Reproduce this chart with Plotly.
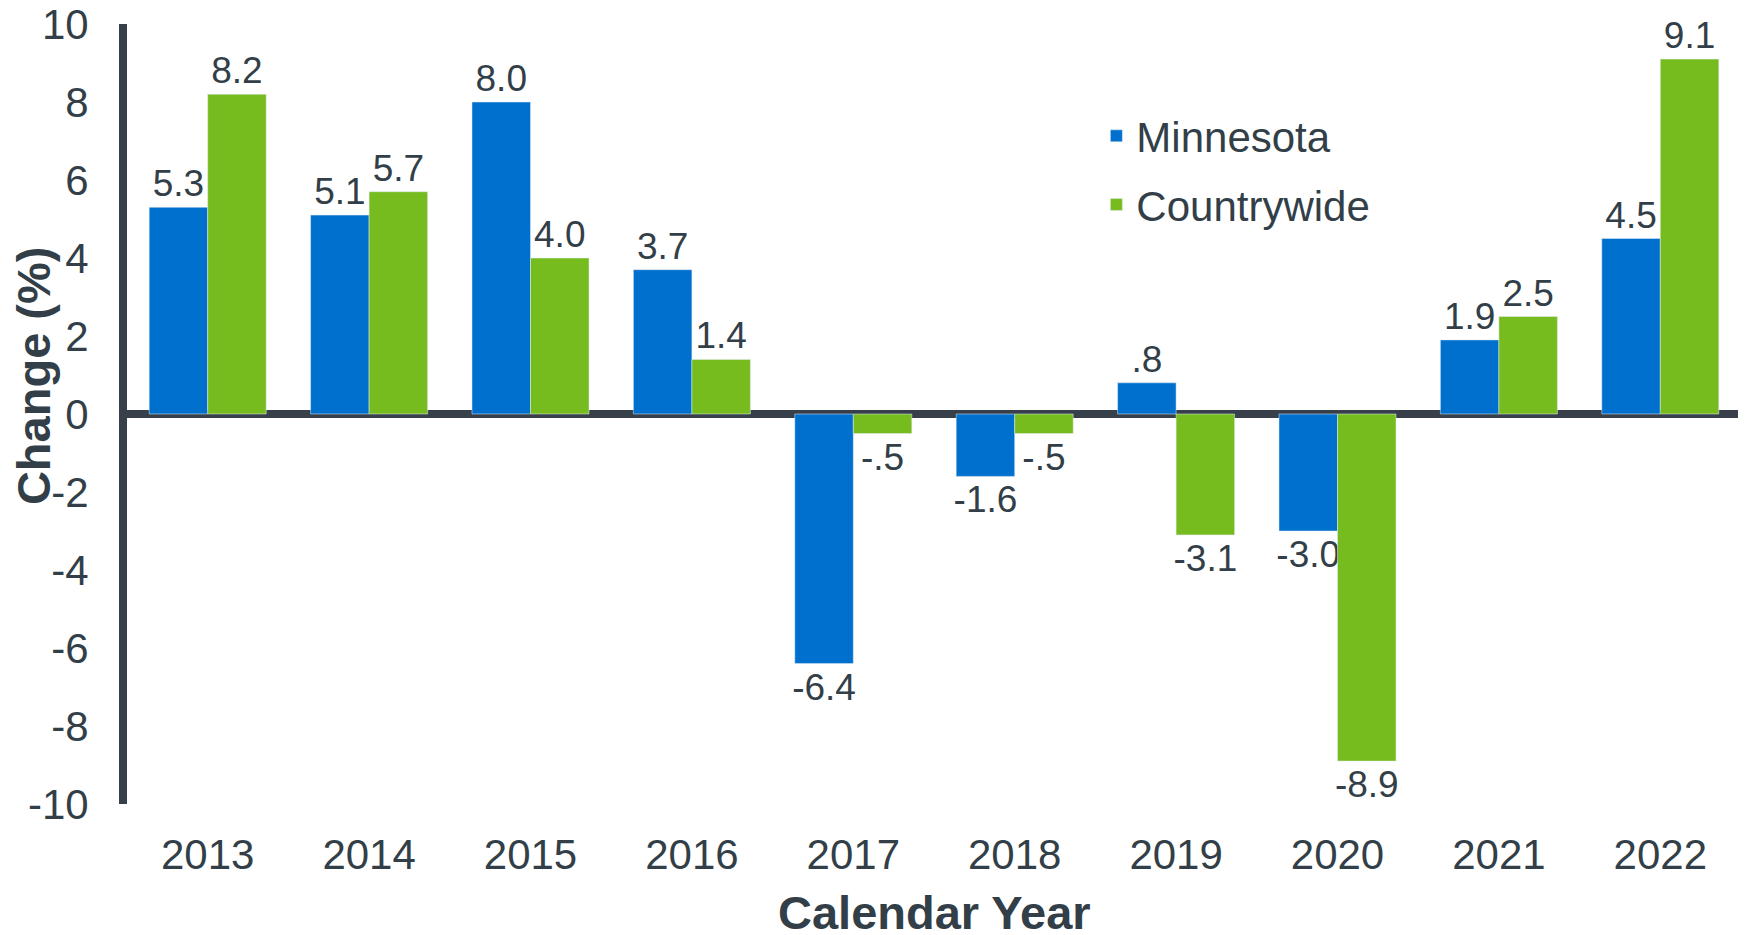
import plotly.graph_objects as go

# ---- data ----
years = ["2013", "2014", "2015", "2016", "2017", "2018", "2019", "2020", "2021", "2022"]
minnesota = [5.3, 5.1, 8.0, 3.7, -6.4, -1.6, 0.8, -3.0, 1.9, 4.5]
countrywide = [8.2, 5.7, 4.0, 1.4, -0.5, -0.5, -3.1, -8.9, 2.5, 9.1]
minnesota_labels = ["5.3", "5.1", "8.0", "3.7", "-6.4", "-1.6", ".8", "-3.0", "1.9", "4.5"]
countrywide_labels = ["8.2", "5.7", "4.0", "1.4", "-.5", "-.5", "-3.1", "-8.9", "2.5", "9.1"]
y_tick_values = [10, 8, 6, 4, 2, 0, -2, -4, -6, -8, -10]
y_tick_labels = ["10", "8", "6", "4", "2", "0", "-2", "-4", "-6", "-8", "-10"]

# ---- style ----
FONT = "Arial, 'Liberation Sans', sans-serif"
TEXT = "rgb(51,63,72)"
AXIS = "rgb(55,64,74)"
BLUE = "rgb(0,112,206)"
GREEN = "rgb(119,188,31)"

fig = go.Figure()
fig.add_trace(go.Bar(
    x=years, y=minnesota, name="Minnesota", marker_color=BLUE,
    text=minnesota_labels, textposition="outside", cliponaxis=False,
    textfont=dict(size=37, color=TEXT, family=FONT), constraintext="none",
    legendgroup="a",
))
fig.add_trace(go.Bar(
    x=years, y=countrywide, name="Countrywide", marker_color=GREEN,
    text=countrywide_labels, textposition="outside", cliponaxis=False,
    textfont=dict(size=37, color=TEXT, family=FONT), constraintext="none",
    legendgroup="b",
))

fig.update_layout(
    width=1738, height=927,
    margin=dict(l=119, r=5, t=16, b=131, autoexpand=False),
    paper_bgcolor="white", plot_bgcolor="white",
    barmode="group", bargap=0.275, bargroupgap=0,
    font=dict(family=FONT, color=TEXT, size=42),
    showlegend=True,
    legend=dict(
        x=0.6006, y=0.90, xanchor="left", yanchor="top",
        font=dict(size=42, color=TEXT, family=FONT),
        bgcolor="rgba(0,0,0,0)", tracegroupgap=11,
    ),
    xaxis=dict(
        type="category", showline=False, showgrid=False, zeroline=False,
        ticks="", tickfont=dict(size=42, color=TEXT, family=FONT),
        ticklabelstandoff=22, automargin=False, ticklabeloverflow="allow",
    ),
    yaxis=dict(
        range=[-10, 10], tickvals=y_tick_values, ticktext=y_tick_labels,
        showgrid=False, zeroline=True, zerolinewidth=8, zerolinecolor=AXIS,
        showline=True, linewidth=8, linecolor=AXIS,
        ticks="", tickfont=dict(size=42, color=TEXT, family=FONT),
        ticklabelstandoff=22, automargin=False, ticklabeloverflow="allow",
    ),
    annotations=[
        dict(text="<b>Change (%)</b>", textangle=-90, xref="paper", yref="paper",
             x=-0.0582, y=0.5487, xanchor="center", yanchor="middle", showarrow=False,
             font=dict(size=47, color=TEXT, family=FONT)),
        dict(text="<b>Calendar Year</b>", xref="paper", yref="paper",
             x=0.5, y=-0.1385, xanchor="center", yanchor="middle", showarrow=False,
             font=dict(size=47, color=TEXT, family=FONT)),
    ],
)

fig.write_html("out.html")
